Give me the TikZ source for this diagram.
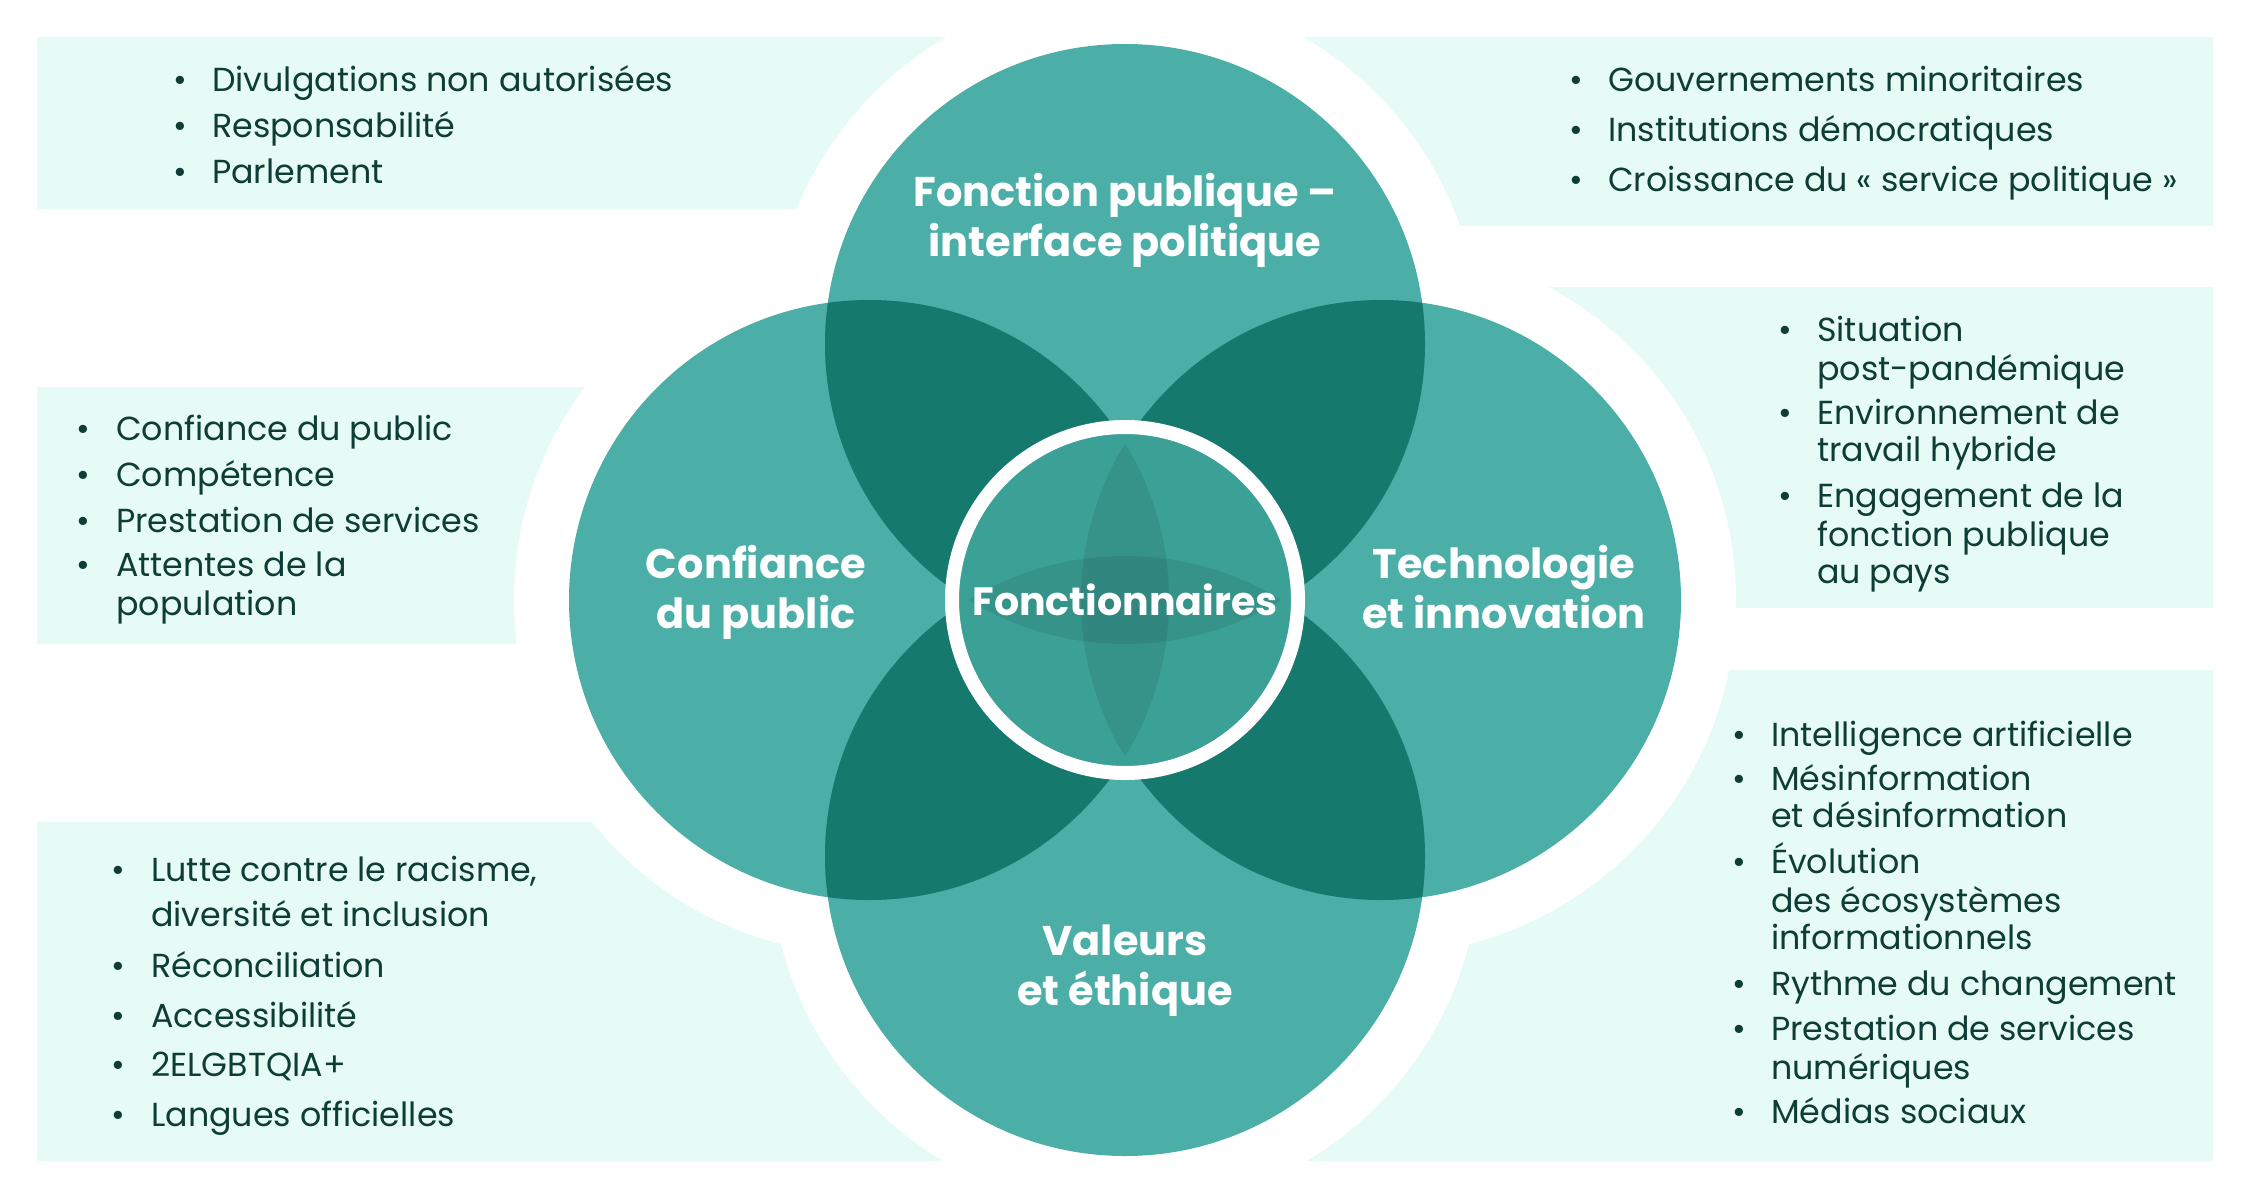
\documentclass[tikz,border=0pt]{standalone}
\usepackage{fontspec}
\setmainfont{Poppins}
\definecolor{mint}{HTML}{E6FBF5}
\definecolor{lightteal}{HTML}{4BAEA7}
\definecolor{darkteal}{HTML}{16796D}
\definecolor{innerteal}{HTML}{3BA096}
\definecolor{ink}{HTML}{0D3D35}
\newcommand{\lineat}[4]{\node[item] (#1) at (#2,#3) {#4};}
\newcommand{\bulat}[3]{\node[bul] (#1) at (#2,#3) {•};}
\begin{document}
\begin{tikzpicture}[x=1pt,y=-1pt,
  box/.style={fill=mint, draw=none},
  item/.style={anchor=west, inner sep=0pt, yshift=-10pt, text height=0.75em, text depth=0.2em, font=\fontsize{33.3}{40}\selectfont, text=ink},
  bul/.style={anchor=center, inner sep=0pt, yshift=-10pt, text height=0.75em, text depth=0.2em, font=\fontsize{33.3}{40}\selectfont, text=ink},
  ttl/.style={anchor=center, inner sep=0pt, yshift=-13pt, text height=0.75em, text depth=0.2em, font=\fontsize{41.5}{48}\selectfont\bfseries, text=white},
  ctr/.style={anchor=center, inner sep=0pt, yshift=-13pt, text height=0.75em, text depth=0.2em, font=\fontsize{39.5}{46}\selectfont\bfseries, text=white}]
\fill[white] (0,0) rectangle (2251,1199);
\useasboundingbox (0,0) rectangle (2251,1199);
\coordinate (C) at (1125,600);
\coordinate (T) at (1125,344);
\coordinate (L) at (869,600);
\coordinate (R) at (1381,600);
\coordinate (B) at (1125,856);
% boxes
\fill[box] (37,37) rectangle (1100,209);
\fill[box] (1150,37) rectangle (2213,226);
\fill[box] (37,387) rectangle (870,644);
\fill[box] (1380,287) rectangle (2213,608);
\fill[box] (37,822) rectangle (1125,1161);
\fill[box] (1125,670) rectangle (2213,1161);
% white clearance
\foreach \c in {T,L,R,B} \fill[white] (\c) circle (355);
% circles
\foreach \c in {T,L,R,B} \fill[lightteal] (\c) circle (300);
% dark overlaps
\foreach \a/\b in {T/L,T/R,B/L,B/R}{
  \begin{scope}
    \clip (\a) circle (300);
    \fill[darkteal] (\b) circle (300);
  \end{scope}
}
% inner disk
\fill[innerteal] (C) circle (173);
\begin{scope}
  \clip (C) circle (173);
  \begin{scope}
    \clip (L) circle (300);
    \fill[black, opacity=0.08] (R) circle (300);
  \end{scope}
  \begin{scope}
    \clip (T) circle (300);
    \fill[black, opacity=0.08] (B) circle (300);
  \end{scope}
\end{scope}
\draw[white, line width=14pt] (C) circle (173);
% titles
\node[ttl] (t1a) at (1125,191) {Fonction publique –};
\node[ttl] (t1b) at (1125,241) {interface politique};
\node[ttl] (t2a) at (756,563) {Confiance};
\node[ttl] (t2b) at (756,613) {du public};
\node[ttl] (t3a) at (1504,563) {Technologie};
\node[ttl] (t3b) at (1504,613) {et innovation};
\node[ttl] (t4a) at (1125,940) {Valeurs};
\node[ttl] (t4b) at (1125,990) {et éthique};
\node[ctr] (center) at (1125,600) {Fonctionnaires};
% TL
\bulat{tlb1}{180}{79}\lineat{tl1}{212}{79}{Divulgations non autorisées}
\bulat{tlb2}{180}{125}\lineat{tl2}{212}{125}{Responsabilité}
\bulat{tlb3}{180}{171}\lineat{tl3}{212}{171}{Parlement}
% TR
\bulat{trb1}{1576}{79}\lineat{tr1}{1608}{79}{Gouvernements minoritaires}
\bulat{trb2}{1576}{129}\lineat{tr2}{1608}{129}{Institutions démocratiques}
\bulat{trb3}{1576}{179}\lineat{tr3}{1608}{179}{Croissance du « service politique »}
% ML
\bulat{mlb1}{83}{428}\lineat{ml1}{116}{428}{Confiance du public}
\bulat{mlb2}{83}{474}\lineat{ml2}{116}{474}{Compétence}
\bulat{mlb3}{83}{520}\lineat{ml3}{116}{520}{Prestation de services}
\bulat{mlb4}{83}{564}\lineat{ml4}{116}{564}{Attentes de la}
\lineat{ml5}{116}{603}{population}
% MR
\bulat{mrb1}{1785}{329}\lineat{mr1}{1817}{329}{Situation}
\lineat{mr2}{1817}{368}{post-pandémique}
\bulat{mrb2}{1785}{412}\lineat{mr3}{1817}{412}{Environnement de}
\lineat{mr4}{1817}{449}{travail hybride}
\bulat{mrb3}{1785}{495}\lineat{mr5}{1817}{495}{Engagement de la}
\lineat{mr6}{1817}{534}{fonction publique}
\lineat{mr7}{1817}{571}{au pays}
% BR
\bulat{brb1}{1739}{734}\lineat{br1}{1771}{734}{Intelligence artificielle}
\bulat{brb2}{1739}{778}\lineat{br2}{1771}{778}{Mésinformation}
\lineat{br3}{1771}{815}{et désinformation}
\bulat{brb3}{1739}{861}\lineat{br4}{1771}{861}{Évolution}
\lineat{br5}{1771}{900}{des écosystèmes}
\lineat{br6}{1771}{937}{informationnels}
\bulat{brb4}{1739}{983}\lineat{br7}{1771}{983}{Rythme du changement}
\bulat{brb5}{1739}{1028}\lineat{br8}{1771}{1028}{Prestation de services}
\lineat{br9}{1771}{1067}{numériques}
\bulat{brb6}{1739}{1111}\lineat{br10}{1771}{1111}{Médias sociaux}
% BL
\bulat{blb1}{118}{869}\lineat{bl1}{151}{869}{Lutte contre le racisme,}
\lineat{bl2}{151}{914}{diversité et inclusion}
\bulat{blb2}{118}{965}\lineat{bl3}{151}{965}{Réconciliation}
\bulat{blb3}{118}{1015}\lineat{bl4}{151}{1015}{Accessibilité}
\bulat{blb4}{118}{1064}\lineat{bl5}{151}{1064}{2ELGBTQIA+}
\bulat{blb5}{118}{1114}\lineat{bl6}{151}{1114}{Langues officielles}
\end{tikzpicture}
\end{document}
